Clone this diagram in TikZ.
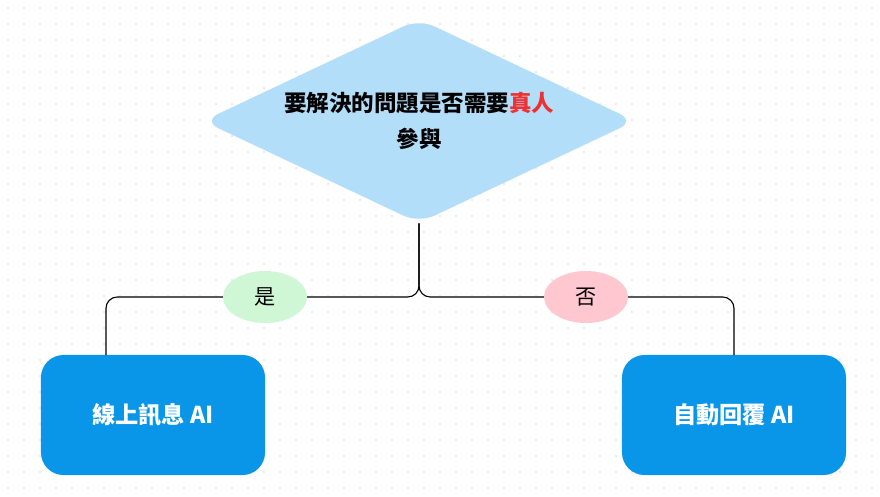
\documentclass[tikz,border=0pt]{standalone}
\usepackage{fontspec}
\setmainfont{Noto Sans CJK TC}
\usetikzlibrary{shapes.geometric, positioning}
\definecolor{diafill}{HTML}{B3DEFA}
\definecolor{boxfill}{HTML}{0A96E8}
\definecolor{yesfill}{HTML}{CFF7D6}
\definecolor{nofill}{HTML}{FFC7CF}
\definecolor{dotgray}{HTML}{D4D4D4}
\definecolor{hot}{HTML}{F03030}
\begin{document}
\begin{tikzpicture}[x=0.025cm, y=-0.025cm,
    every node/.style={font=\bfseries},
    decision/.style={diamond, fill=diafill, rounded corners=12pt, aspect=2.08,
        minimum width=10.8cm, minimum height=5.1cm, inner sep=0pt, align=center,
        font=\bfseries\fontsize{16}{26}\selectfont},
    answer/.style={rectangle, fill=boxfill, rounded corners=16pt, text=white,
        minimum width=5.6cm, minimum height=3cm, font=\bfseries\fontsize{16.5}{20}\selectfont},
    tag/.style={ellipse, minimum width=2.1cm, minimum height=1.3cm,
        font=\fontsize{15}{18}\selectfont},
    link/.style={thick, rounded corners=8pt}]

    % Background
    \useasboundingbox (0,0) rectangle (880,496);
    \fill[white] (0,0) rectangle (880,496);
    \foreach \i in {8,24,...,880}
        \foreach \j in {8,24,...,496}
            \fill[dotgray] (\i,\j) circle (0.6pt);

    % Nodes
    \node[decision] (q) at (419,121) {要解決的問題是否需要\textcolor{hot}{真人}\\參與};
    \node[answer] (online) at (153,415) {線上訊息 AI};
    \node[answer] (auto) at (734,415) {自動回覆 AI};
    \coordinate (split) at (419,297);
    \coordinate (lefttop) at (106,355);
    \coordinate (righttop) at (734,355);

    % Edges
    \draw[link] (q.south) -- (split) -| (lefttop);
    \draw[link] (q.south) -- (split) -| (righttop);
    \node[tag, fill=yesfill] (yes) at (265,297) {是};
    \node[tag, fill=nofill] (no) at (586,297) {否};

\end{tikzpicture}
\end{document}
